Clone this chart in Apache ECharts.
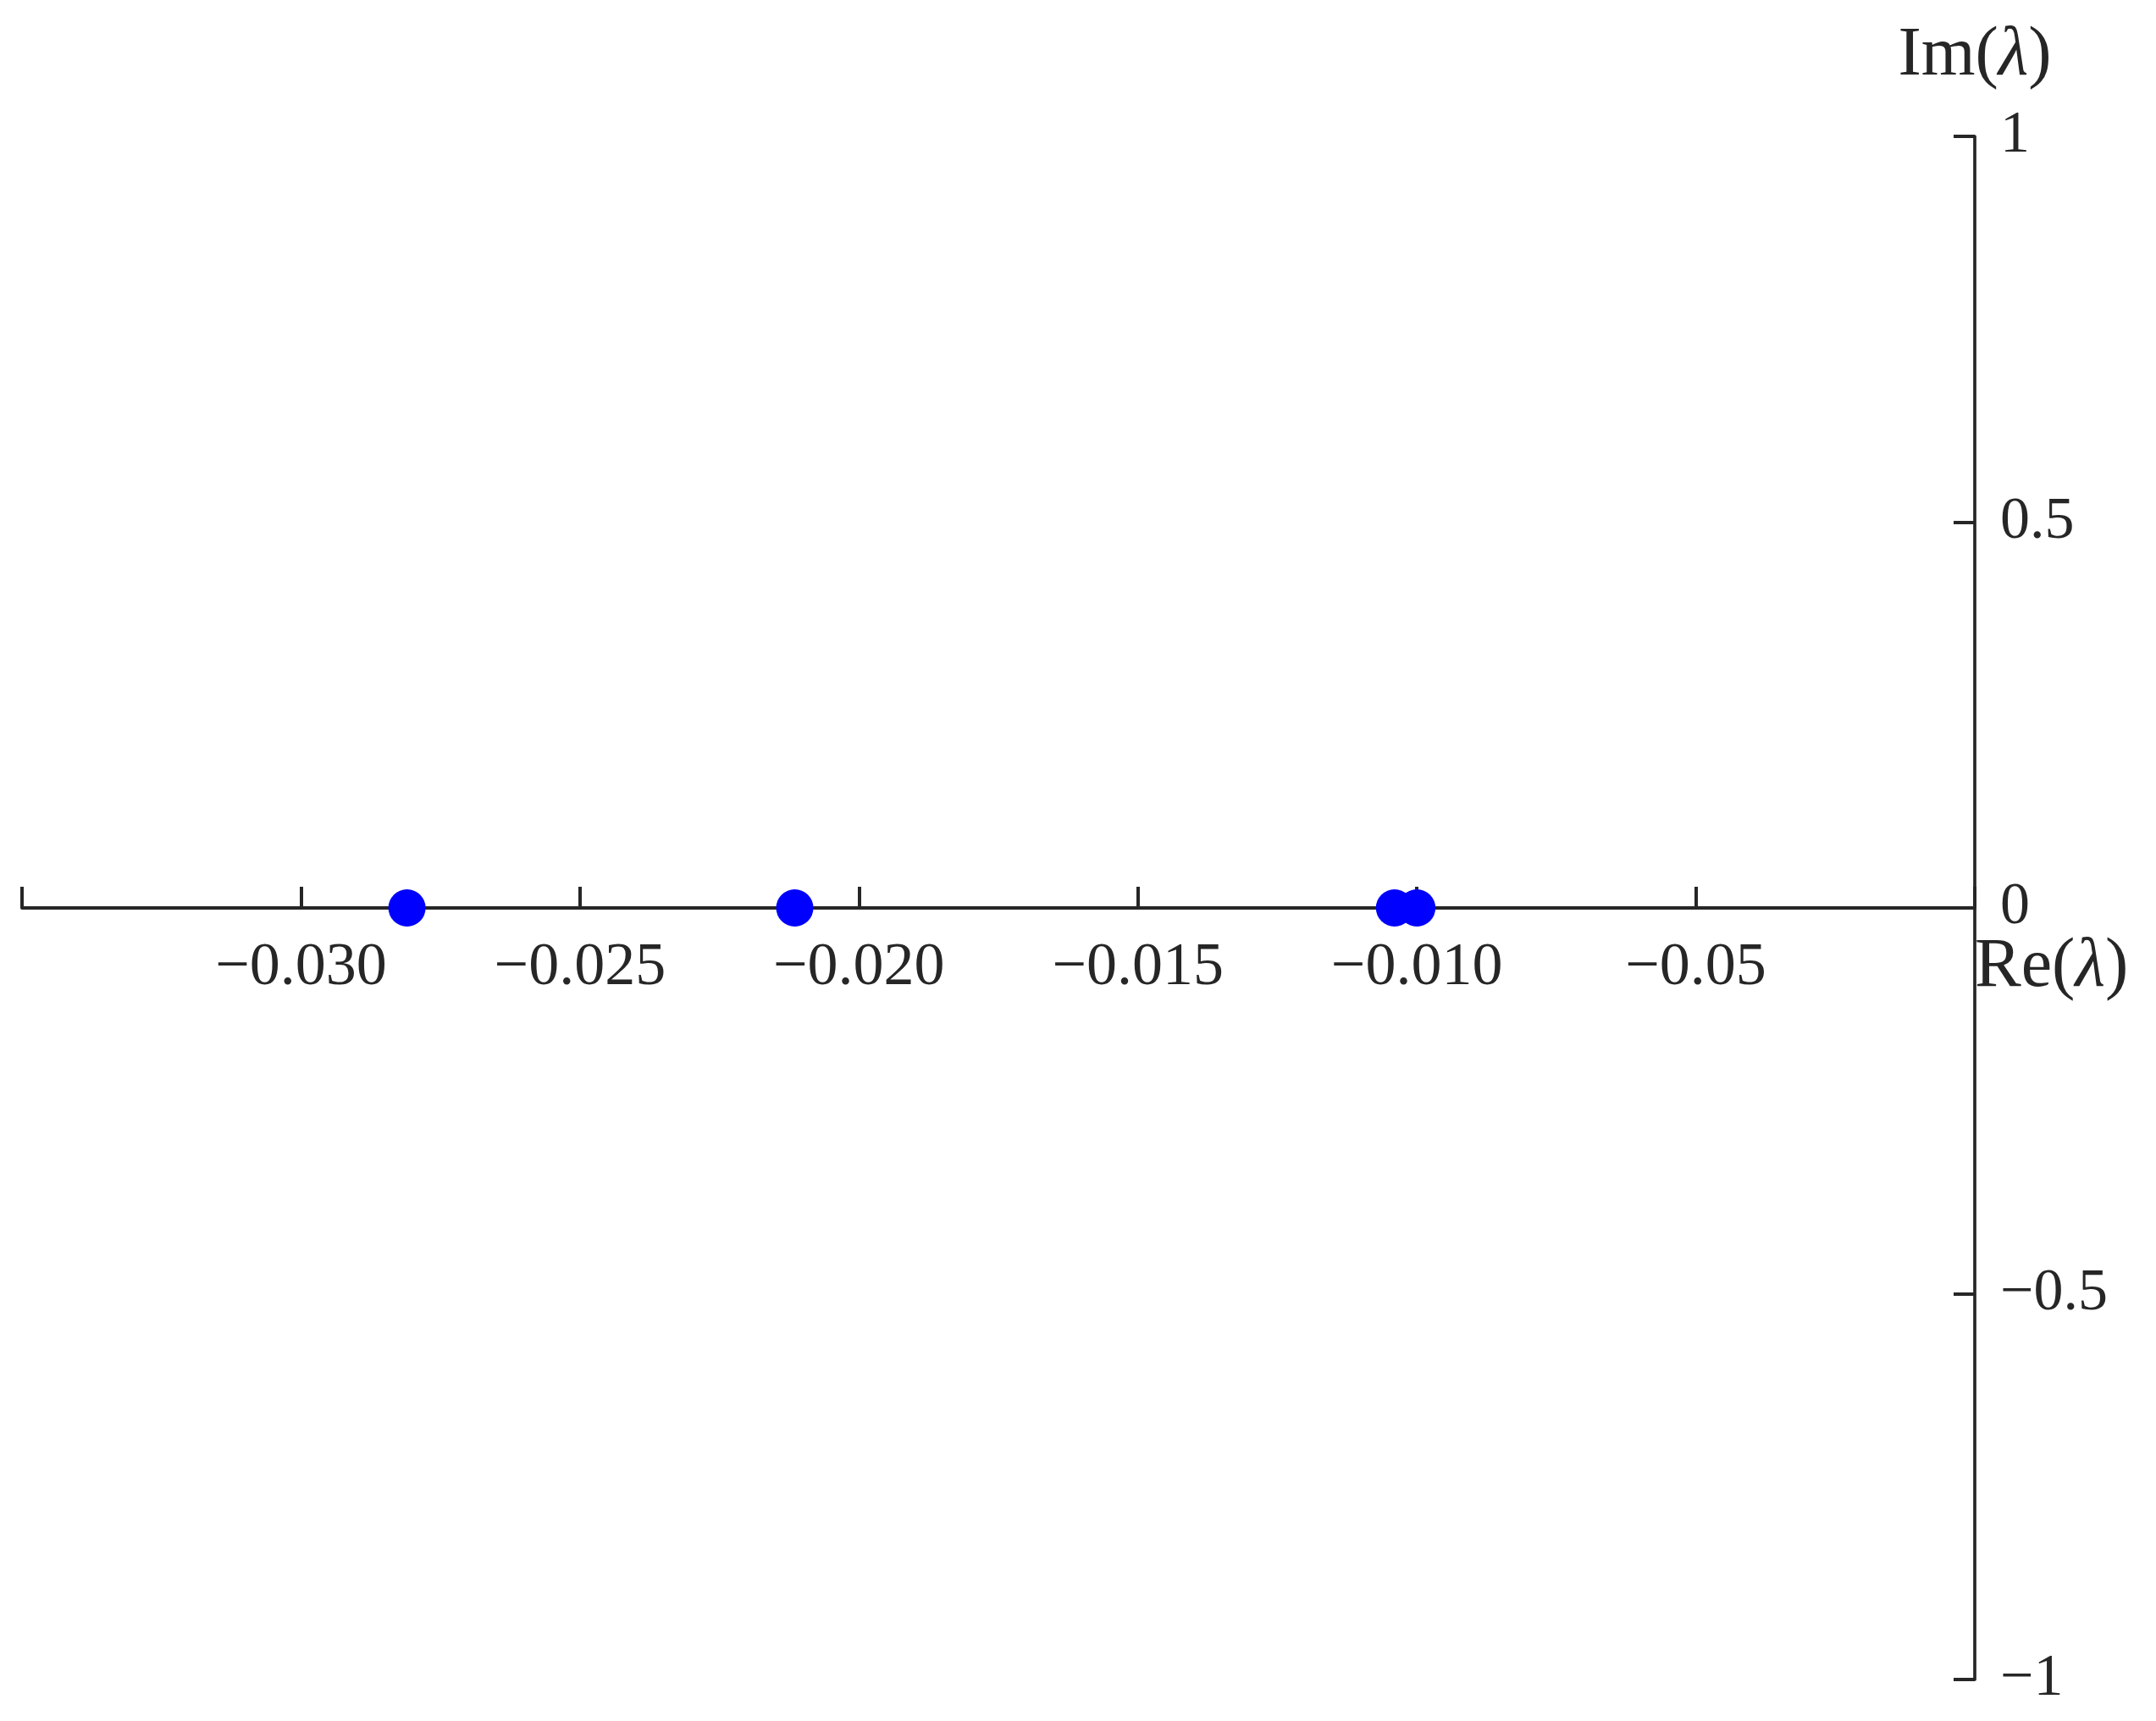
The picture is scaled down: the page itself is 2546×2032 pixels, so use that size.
<!DOCTYPE html>
<html>
<head>
<meta charset="utf-8">
<script src="https://cdn.jsdelivr.net/npm/echarts@6/dist/echarts.min.js"></script>
<style>
html,body{margin:0;padding:0;background:#fff;}
#chart{width:2546px;height:2032px;}
</style>
</head>
<body>
<div id="chart"></div>
<script>
// Eigenvalues (real and imaginary parts)
var reValues = [-0.0281, -0.02115, -0.0104, -0.0100];
var imValues = [0, 0, 0, 0];

// Axis ticks and labels
var xTickValues = [-0.035, -0.030, -0.025, -0.020, -0.015, -0.010, -0.005, 0];
var xTickLabels = ['', '\u22120.030', '\u22120.025', '\u22120.020', '\u22120.015', '\u22120.010', '\u22120.05', ''];
var yTickValues = [-1, -0.5, 0, 0.5, 1];
var yTickLabels = ['\u22121', '\u22120.5', '0', '0.5', '1'];

var FONT = 'Liberation Serif';
var INK = '#262626';

var points = reValues.map(function (r, i) { return [r, imValues[i]]; });

function lookup(values, labels, v) {
  for (var i = 0; i < values.length; i++) {
    if (Math.abs(values[i] - v) < 1e-9) return labels[i];
  }
  return '';
}

var GRID_TOP = 161, GRID_BOTTOM = 49, CHART_H = 2032;
var plotH = CHART_H - GRID_TOP - GRID_BOTTOM;

var chart = echarts.init(document.getElementById('chart'), null, {renderer: 'canvas'});
chart.setOption({
  backgroundColor: '#ffffff',
  animation: false,
  grid: {left: 26, right: 214, top: GRID_TOP, bottom: GRID_BOTTOM, containLabel: false, outerBoundsMode: 'none'},
  xAxis: {
    type: 'value',
    position: 'bottom',
    offset: -plotH / 2,
    min: -0.035,
    max: 0,
    interval: 0.005,
    splitLine: {show: false},
    axisLine: {show: true, onZero: false, lineStyle: {color: INK, width: 4}},
    axisTick: {show: true, inside: true, length: 25, lineStyle: {color: INK, width: 4}},
    axisLabel: {
      show: true, margin: 35, color: INK, fontFamily: FONT, fontSize: 72, lineHeight: 72,
      showMinLabel: true, showMaxLabel: true, hideOverlap: false,
      formatter: function (v) { return lookup(xTickValues, xTickLabels, v); }
    },
    name: '{n|Re(}{l|\u03bb}{n|)}',
    nameLocation: 'end',
    nameGap: 0,
    nameMoveOverlap: false,
    nameTextStyle: {
      align: 'left', verticalAlign: 'top', padding: [29, 0, 0, 0],
      rich: {
        n: {fontFamily: FONT, fontSize: 82, lineHeight: 82, color: INK},
        l: {fontFamily: FONT, fontSize: 82, lineHeight: 82, color: INK, fontStyle: 'italic'}
      }
    }
  },
  yAxis: {
    type: 'value',
    position: 'right',
    min: -1,
    max: 1,
    interval: 0.5,
    splitLine: {show: false},
    axisLine: {show: true, onZero: false, lineStyle: {color: INK, width: 3.7}},
    axisTick: {show: true, inside: true, length: 25, lineStyle: {color: INK, width: 4}},
    axisLabel: {
      show: true, margin: 30, color: INK, fontFamily: FONT, fontSize: 70, lineHeight: 70,
      showMinLabel: true, showMaxLabel: true, hideOverlap: false,
      formatter: function (v) { return lookup(yTickValues, yTickLabels, v); }
    },
    name: '{n|Im(}{l|\u03bb}{n|)}',
    nameLocation: 'end',
    nameGap: 54,
    nameMoveOverlap: false,
    nameTextStyle: {
      align: 'center', verticalAlign: 'bottom',
      rich: {
        n: {fontFamily: FONT, fontSize: 82, lineHeight: 82, color: INK},
        l: {fontFamily: FONT, fontSize: 82, lineHeight: 82, color: INK, fontStyle: 'italic'}
      }
    }
  },
  series: [{
    type: 'scatter',
    data: points,
    symbol: 'circle',
    symbolSize: 44,
    itemStyle: {color: '#0000ff', opacity: 1},
    z: 5
  }]
});
</script>
</body>
</html>
